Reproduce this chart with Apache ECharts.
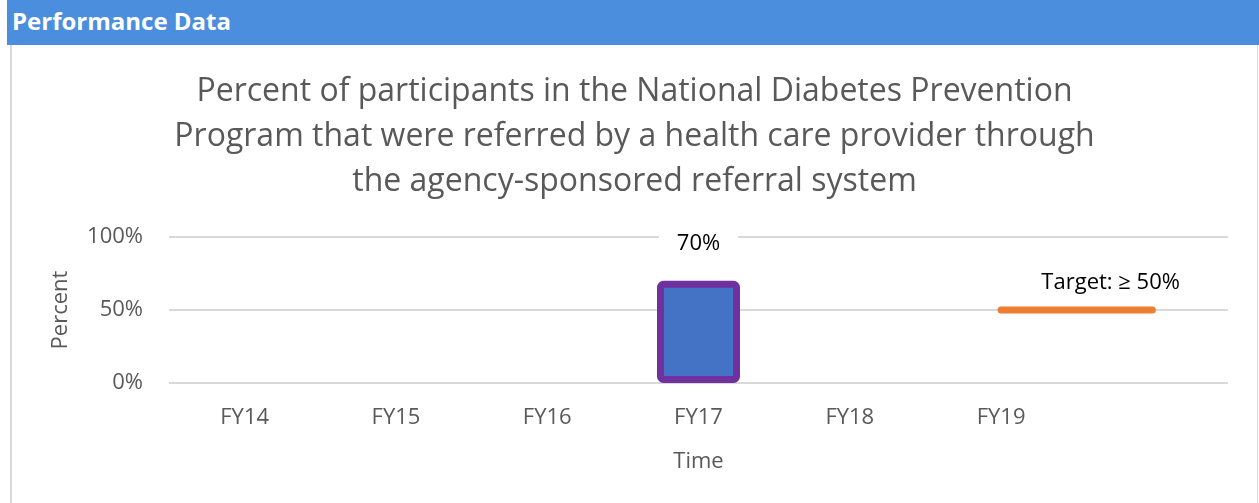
<!DOCTYPE html>
<html>
<head>
<meta charset="utf-8">
<script src="https://cdn.jsdelivr.net/npm/echarts@6/dist/echarts.min.js"></script>
<style>
    body{ margin:0; background:#fff; font-family:"Open Sans",sans-serif; }
    .hd{ position:absolute; left:7px; top:0; width:1252px; height:45px; background:#4C8EDE; color:#fff; font-weight:bold; font-size:24px; line-height:42px; padding-left:5px; box-sizing:border-box; }
    #first{ position:absolute; left:10px; top:45px; width:1245px; height:458px; border-left:2px solid #d9d9d9; border-right:1px solid #d9d9d9; }
</style>
</head>
<body>
<div class="hd">Performance Data</div>
<div id="first"></div>
<script type="text/javascript">
    // 数据
    var categories = ['FY14', 'FY15', 'FY16', 'FY17', 'FY18', 'FY19', ''];
    var percentValues = [null, null, null, 70, null, null, null];
    var targetValues = [null, null, null, null, null, 50, 50];
    var yTicks = [0, 50, 100];

    var grey = '#595959';
    var myChart = echarts.init(document.getElementById('first'));
    myChart.setOption({
        animation: false,
        textStyle: { fontFamily: 'Open Sans' },
        title: {
            text: 'Percent of participants in the National Diabetes Prevention\nProgram that were referred by a health care provider through\nthe agency-sponsored referral system',
            left: 'center',
            top: 19,
            textStyle: { color: grey, fontSize: 32, fontWeight: 'normal', lineHeight: 45, fontFamily: 'Open Sans' }
        },
        grid: { left: 157, top: 192, width: 1059, height: 146 },
        xAxis: {
            type: 'category',
            data: categories,
            name: 'Time',
            nameLocation: 'middle',
            nameGap: 68,
            nameTextStyle: { color: grey, fontSize: 22 },
            axisLine: { show: false },
            axisTick: { show: false },
            axisLabel: { color: grey, fontSize: 22, margin: 24 }
        },
        yAxis: {
            type: 'value',
            min: yTicks[0],
            max: yTicks[yTicks.length - 1],
            interval: 50,
            name: 'Percent',
            nameLocation: 'middle',
            nameGap: 97,
            nameTextStyle: { color: grey, fontSize: 22 },
            axisLabel: { color: grey, fontSize: 22, margin: 26, formatter: '{value}%' },
            splitLine: { lineStyle: { color: '#d9d9d9', width: 2 } }
        },
        series: [{
            name: 'Percent',
            type: 'bar',
            data: percentValues,
            barWidth: 83,
            itemStyle: { color: '#4472C4', borderColor: '#7030A0', borderWidth: 7, borderRadius: 3 },
            label: {
                show: true,
                position: 'top',
                distance: 24,
                formatter: '{c}%',
                color: '#000',
                fontSize: 22,
                backgroundColor: '#fff',
                padding: [2, 18]
            }
        }, {
            name: 'Target',
            type: 'line',
            data: targetValues,
            symbol: 'none',
            lineStyle: { color: '#ED7D31', width: 7, cap: 'round' },
            endLabel: {
                show: true,
                formatter: 'Target: ≥ 50%',
                color: '#000',
                fontSize: 22,
                offset: [-119, -27]
            }
        }]
    });
</script>
</body>
</html>
